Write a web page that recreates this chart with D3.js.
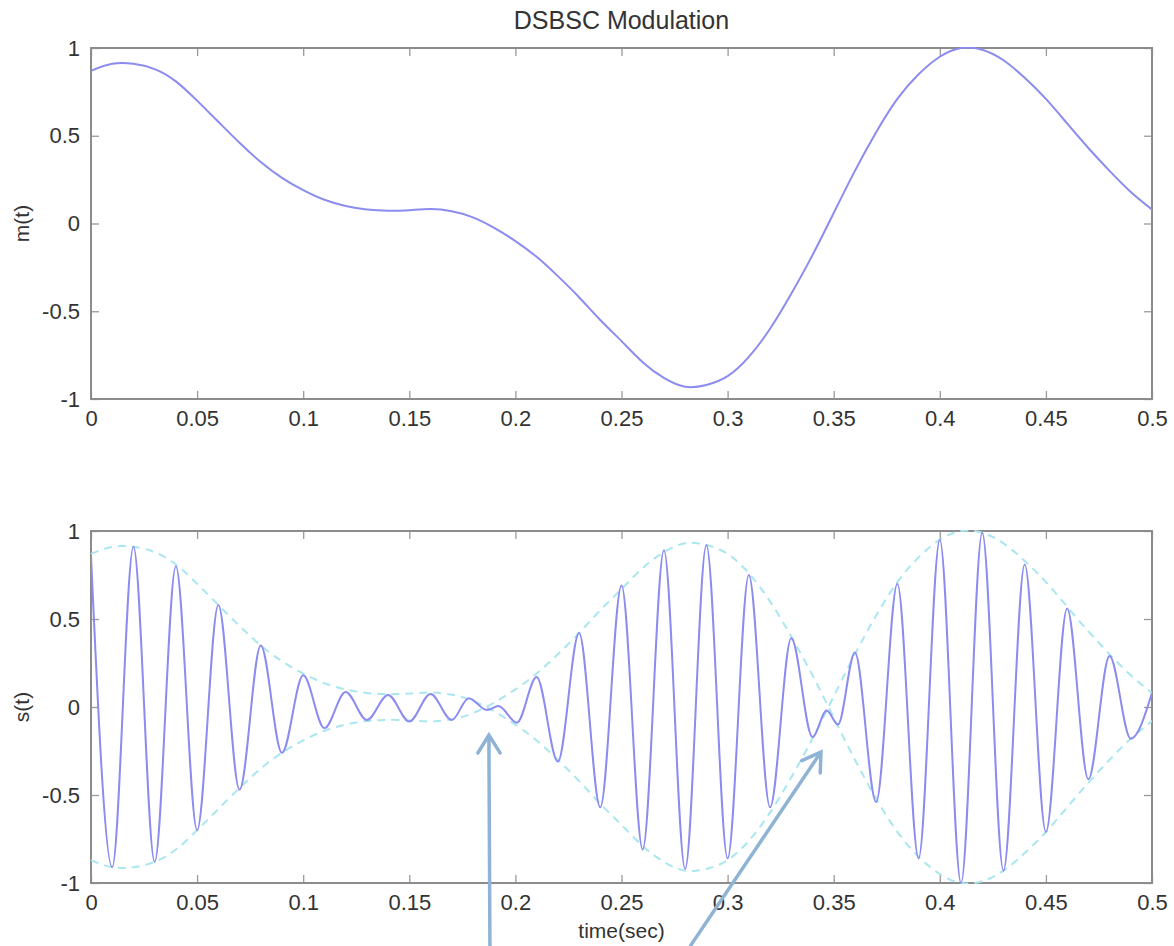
<!DOCTYPE html>
<html><head><meta charset="utf-8">
<script src="https://cdn.jsdelivr.net/npm/d3@7"></script>
<style>
body{margin:0;background:#fff}
text{font-family:"Liberation Sans",Arial,Helvetica,sans-serif;fill:#333}
</style></head>
<body><svg id="c" width="1174" height="946"></svg>
<script>
// ---- data ----
const mTimes = d3.range(0, 51).map(i => i / 100);
const mValues = [0.87,0.91,0.91,0.88,0.81,0.70,0.58,0.46,0.35,0.26,
  0.19,0.135,0.10,0.08,0.073,0.076,0.082,0.07,0.035,-0.025,
  -0.10,-0.19,-0.30,-0.42,-0.55,-0.67,-0.79,-0.88,-0.93,-0.92,
  -0.87,-0.76,-0.60,-0.40,-0.18,0.06,0.30,0.52,0.71,0.85,
  0.95,1.0,0.99,0.93,0.83,0.71,0.57,0.43,0.30,0.18,0.08];

const sTimes = [0,0.01,0.02,0.03,0.04,0.05,0.06,0.07,0.08,0.09,0.10,0.11,0.12,0.13,0.14,0.15,0.16,0.17,
  0.178,0.1866,0.192,0.2007,0.21,0.22,0.23,0.24,0.25,0.26,0.27,0.28,0.29,0.30,0.31,0.32,0.33,0.34,
  0.3467,0.352,0.36,0.37,0.38,0.39,0.40,0.41,0.42,0.43,0.44,0.45,0.46,0.47,0.48,0.49,0.50];
const sValues = [0.86,-0.91,0.91,-0.88,0.80,-0.70,0.58,-0.47,0.35,-0.26,0.18,-0.12,0.085,-0.074,0.068,-0.083,0.074,-0.074,
  0.05,-0.017,0.005,-0.089,0.17,-0.31,0.42,-0.57,0.69,-0.81,0.89,-0.92,0.92,-0.86,0.75,-0.57,0.39,-0.17,
  -0.02,-0.10,0.31,-0.54,0.70,-0.86,0.95,-1.0,0.99,-0.93,0.81,-0.71,0.56,-0.41,0.29,-0.18,0.08];

const xTicks = [0,0.05,0.1,0.15,0.2,0.25,0.3,0.35,0.4,0.45,0.5];
const xTickLabels = ["0","0.05","0.1","0.15","0.2","0.25","0.3","0.35","0.4","0.45","0.5"];
const yTicks = [-1,-0.5,0,0.5,1];
const yTickLabels = ["-1","-0.5","0","0.5","1"];

const title = "DSBSC Modulation";
const topYLabel = "m(t)";
const botYLabel = "s(t)";
const xLabel = "time(sec)";

// annotation arrows (data units of the lower axes): [tBase, sBase, tTip, sTip]
const arrows = [[0.188,-1.36,0.1875,-0.16],[0.2823,-1.36,0.344,-0.256]];

// ---- layout ----
const svg = d3.select("#c");
const L = 91, R = 1152;
const panels = [{top:48,bottom:399},{top:531,bottom:883}];
const x = d3.scaleLinear().domain([0,0.5]).range([L,R]);

const lineColor = "#8b8bf0";
const envColor = "#a9e7ef";
const axisColor = "#8c8c8c";

function drawAxes(p, id) {
  const y = d3.scaleLinear().domain([-1,1]).range([p.bottom,p.top]);
  const g = svg.append("g");
  const fmtX = d => xTickLabels[xTicks.indexOf(d)];
  const fmtY = d => yTickLabels[yTicks.indexOf(d)];
  g.append("g").attr("transform",`translate(0,${p.bottom})`)
    .call(d3.axisBottom(x).tickValues(xTicks).tickFormat(fmtX).tickSize(-8).tickSizeOuter(0).tickPadding(11));
  g.append("g").attr("transform",`translate(0,${p.top})`)
    .call(d3.axisTop(x).tickValues(xTicks).tickFormat("").tickSize(-8).tickSizeOuter(0));
  g.append("g").attr("transform",`translate(${L},0)`)
    .call(d3.axisLeft(y).tickValues(yTicks).tickFormat(fmtY).tickSize(-8).tickSizeOuter(0).tickPadding(11));
  g.append("g").attr("transform",`translate(${R},0)`)
    .call(d3.axisRight(y).tickValues(yTicks).tickFormat("").tickSize(-8).tickSizeOuter(0));
  g.selectAll(".domain").remove();
  g.selectAll(".tick line").attr("stroke","#9a9a9a").attr("stroke-width",1.3);
  g.selectAll(".tick text").attr("font-size",22).attr("fill","#333")
    .style("font-family",'"Liberation Sans",Arial,sans-serif');
  g.append("rect").attr("x",L).attr("y",p.top).attr("width",R-L).attr("height",p.bottom-p.top)
    .attr("fill","none").attr("stroke",axisColor).attr("stroke-width",2);
  svg.append("clipPath").attr("id",id).append("rect")
    .attr("x",L).attr("y",p.top-1).attr("width",R-L).attr("height",p.bottom-p.top+2);
  return y;
}

// top panel
const y1 = drawAxes(panels[0],"clip1");
svg.append("path").attr("clip-path","url(#clip1)")
  .datum(mTimes.map((t,i)=>[t,mValues[i]]))
  .attr("fill","none").attr("stroke",lineColor).attr("stroke-width",2)
  .attr("d", d3.line().x(d=>x(d[0])).y(d=>y1(d[1])).curve(d3.curveNatural));

// bottom panel
const y2 = drawAxes(panels[1],"clip2");
const envLine = d3.line().x(d=>x(d[0])).y(d=>y2(d[1])).curve(d3.curveNatural);
[1,-1].forEach(sg=>{
  svg.append("path").attr("clip-path","url(#clip2)")
    .datum(mTimes.map((t,i)=>[t,sg*mValues[i]]))
    .attr("fill","none").attr("stroke",envColor).attr("stroke-width",2)
    .attr("stroke-dasharray","8,6").attr("d",envLine);
});
svg.append("path").attr("clip-path","url(#clip2)")
  .datum(sTimes.map((t,i)=>[t,sValues[i]]))
  .attr("fill","none").attr("stroke",lineColor).attr("stroke-width",2)
  .attr("d", d3.line().x(d=>x(d[0])).y(d=>y2(d[1])).curve(d3.curveMonotoneX));

// texts
svg.append("text").attr("x",(L+R)/2).attr("y",29).attr("text-anchor","middle")
  .attr("font-size",25).text(title);
svg.append("text").attr("transform",`translate(29,${(panels[0].top+panels[0].bottom)/2}) rotate(-90)`)
  .attr("text-anchor","middle").attr("font-size",21).text(topYLabel);
svg.append("text").attr("transform",`translate(29,${(panels[1].top+panels[1].bottom)/2}) rotate(-90)`)
  .attr("text-anchor","middle").attr("font-size",21).text(botYLabel);
svg.append("text").attr("x",(L+R)/2).attr("y",938).attr("text-anchor","middle")
  .attr("font-size",21).text(xLabel);

// arrows
const arrowColor = "#8fb3d5";
arrows.forEach(a=>{
  const x0=x(a[0]), yb=y2(a[1]), x1=x(a[2]), yt=y2(a[3]);
  const dx=x1-x0, dy=yt-yb, len=Math.hypot(dx,dy), ux=dx/len, uy=dy/len;
  const ang=32*Math.PI/180, hl=21;
  const arm = s => {
    const c=Math.cos(s*ang), sn=Math.sin(s*ang);
    const rx = ux*c - uy*sn, ry = ux*sn + uy*c;
    return [x1 - hl*rx, yt - hl*ry];
  };
  const g = svg.append("g").attr("fill","none").attr("stroke",arrowColor).attr("stroke-width",3.5);
  g.append("line").attr("x1",x0).attr("y1",yb).attr("x2",x1-ux*1).attr("y2",yt-uy*1);
  const p1=arm(1), p2=arm(-1);
  g.append("path").attr("d",`M${p1[0]},${p1[1]}L${x1},${yt}L${p2[0]},${p2[1]}`)
    .attr("stroke-linejoin","miter").attr("stroke-linecap","round");
});
</script>
</body></html>
